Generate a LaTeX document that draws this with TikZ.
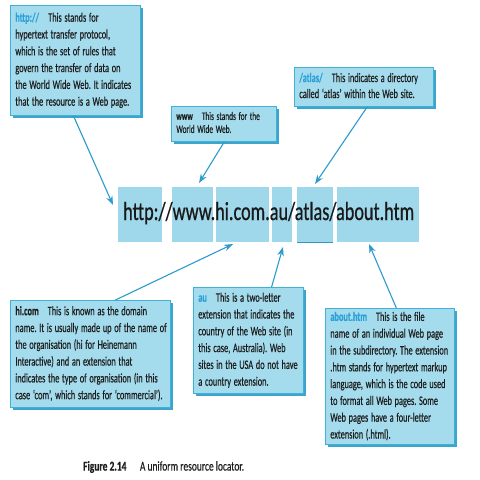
\documentclass[tikz,border=0pt]{standalone}
\usepackage{fontspec}
\setmainfont{Carlito}[FakeStretch=0.64, FakeBold=0.4]
\newfontfamily\urlfont{Carlito}[FakeStretch=0.70, FakeBold=0.6]
\newfontfamily\capfont{Carlito}[FakeStretch=0.70, FakeBold=0.3]
\usetikzlibrary{arrows.meta,shadows,calc}
\definecolor{boxfill}{HTML}{A4DCEE}
\definecolor{boxline}{HTML}{3EB1D6}
\definecolor{shadowcol}{HTML}{3DA5CC}
\definecolor{urlfill}{HTML}{9FD7EB}
\definecolor{arrowcol}{HTML}{2D9BCD}
\definecolor{kwblue}{HTML}{2B9FD8}
\definecolor{textcol}{HTML}{1E1E1E}
\newcommand{\kw}[1]{\textcolor{kwblue}{\textbf{#1}}\hspace{9pt}}
\newcommand{\kk}[1]{\textbf{#1}\hspace{9pt}}
\newenvironment{lines}{\frenchspacing\spaceskip=2.7pt plus 1pt\relax\begin{tabular}{@{}l@{}}}{\end{tabular}}
\tikzset{
  notebox/.style={draw=boxline, line width=0.7pt, fill=boxfill,
    drop shadow={shadow xshift=3pt, shadow yshift=-3pt, fill=shadowcol, opacity=1},
    inner xsep=5pt, inner ysep=0pt, anchor=north west, align=left,
    font=\fontsize{13}{16.8}\selectfont, text=textcol},
  urlbox/.style={fill=urlfill, inner sep=0pt, anchor=north west},
  arr/.style={draw=arrowcol, line width=1.1pt, -{Stealth[length=9pt,width=6.5pt]}},
}
\begin{document}
\begin{tikzpicture}[x=1pt,y=-1pt]
\fill[white] (0,0) rectangle (480,480);
\useasboundingbox (0,0) rectangle (480,480);

% URL segment boxes
\node[urlbox, minimum width=44pt, minimum height=55pt] (u1) at (118,187) {};
\node[urlbox, minimum width=41pt, minimum height=55pt] (u2) at (172,187) {};
\node[urlbox, minimum width=53pt, minimum height=55pt] (u3) at (216,187) {};
\node[urlbox, minimum width=20pt, minimum height=55pt] (u4) at (272,187) {};
\node[urlbox, minimum width=36pt, minimum height=55pt] (u5) at (297,187) {};
\node[urlbox, minimum width=82pt, minimum height=55pt] (u6) at (337,187) {};
\draw[arrowcol, line width=1pt] (u5.south west) -- (u5.south east);
\node[anchor=base west, inner sep=0pt, text=textcol!85!black, font=\urlfont\fontsize{26}{30}\selectfont] (url) at (123,220) {http://www.hi.com.au/atlas/about.htm};

% Note boxes
\node[notebox, text width=120pt, minimum height=110pt] (http) at (10,5)
 {\begin{lines}\kw{http://}This stands for\\ hypertext transfer protocol,\\ which is the set of rules that\\ govern the transfer of data on\\ the World Wide Web. It indicates\\ that the resource is a Web page.\end{lines}};
\node[notebox, text width=95pt, minimum height=35pt, font=\fontsize{11.5}{13}\selectfont] (www) at (171,106)
 {\begin{lines}\kk{www}This stands for the\\ World Wide Web.\end{lines}};
\node[notebox, text width=129pt, minimum height=39pt, font=\fontsize{13}{16}\selectfont] (atlas) at (294,67)
 {\begin{lines}\kw{/atlas/}This indicates a directory\\ called `atlas' within the Web site.\end{lines}};
\node[notebox, text width=150pt, minimum height=107pt] (hicom) at (10,300)
 {\begin{lines}\kk{hi.com}This is known as the domain\\ name. It is usually made up of the name of\\ the organisation (hi for Heinemann\\ Interactive) and an extension that\\ indicates the type of organisation (in this\\ case `com', which stands for `commercial').\end{lines}};
\node[notebox, text width=100pt, minimum height=106pt] (au) at (193,287)
 {\begin{lines}\kw{au}This is a two-letter\\ extension that indicates the\\ country of the Web site (in\\ this case, Australia). Web\\ sites in the USA do not have\\ a country extension.\end{lines}};
\node[notebox, text width=119pt, minimum height=136pt] (about) at (325,308)
 {\begin{lines}\kw{about.htm}This is the file\\ name of an individual Web page\\ in the subdirectory. The extension\\ .htm stands for hypertext markup\\ language, which is the code used\\ to format all Web pages. Some\\ Web pages have a four-letter\\ extension (.html).\end{lines}};

% Caption
\node[anchor=west, inner sep=0pt, text=textcol, font=\capfont\fontsize{13.5}{15}\selectfont] (caption) at (83,467)
 {\textbf{Figure 2.14}\quad A uniform resource locator.};

% Arrow tips
\coordinate (t1) at (113,205);
\coordinate (t2) at (199,183);
\coordinate (t3) at (315,184);
\coordinate (t4) at (233,244);
\coordinate (t5) at (283,247);
\coordinate (t6) at (369,244);

\draw[arr] ($(http.south west)!0.485!(http.south east)$) -- (t1);
\draw[arr] ($(www.south west)!0.505!(www.south east)$) -- (t2);
\draw[arr] ($(atlas.south west)!0.525!(atlas.south east)$) -- (t3);
\draw[arr] ($(hicom.north west)!0.656!(hicom.north east)$) -- (t4);
\draw[arr] ($(au.north west)!0.71!(au.north east)$) -- (t5);
\draw[arr] ($(about.north west)!0.55!(about.north east)$) -- (t6);
\end{tikzpicture}
\end{document}
